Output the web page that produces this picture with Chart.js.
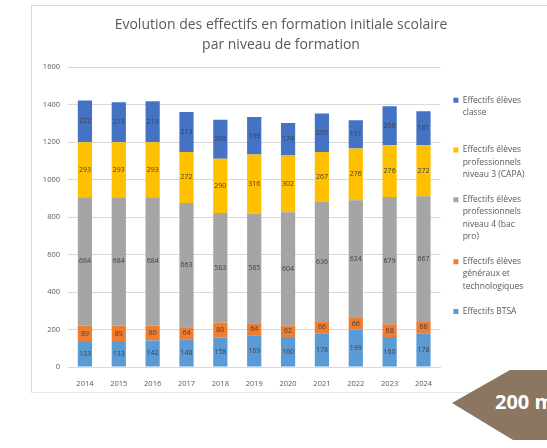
<!DOCTYPE html>
<html>
<head>
<meta charset="utf-8">
<script src="https://cdn.jsdelivr.net/npm/chart.js@4.4.1/dist/chart.umd.min.js"></script>
<style>
  html, body { margin: 0; padding: 0; background: #fff; width: 547px; height: 448px; overflow: hidden; }
  #panel { position: absolute; left: 31px; top: 5px; width: 520px; height: 388px; box-sizing: border-box;
           border-left: 1px solid #d9d9d9; border-top: 1px solid #d9d9d9; border-bottom: 1px solid #e8e8e8; }
  #wrap { position: absolute; left: 31px; top: 5px; width: 500px; height: 388px; }
  #tag { position: absolute; left: 452px; top: 370px; width: 95px; height: 70px; background: #8b7661;
         clip-path: polygon(0 33px, 58px 0, 95px 0, 95px 70px, 61px 70px); }
  #tag span { position: absolute; left: 43px; top: 18px; color: #fff; font: bold 20px "Open Sans", sans-serif; white-space: nowrap; }
</style>
</head>
<body>
<div id="panel"></div>
<div id="wrap"><canvas id="myChart" width="500" height="388"></canvas></div>
<div id="tag"><span>200 m</span></div>
<script>
var years = ["2014", "2015", "2016", "2017", "2018", "2019", "2020", "2021", "2022", "2023", "2024"];

// bas de pile -> haut de pile
var btsa = [133, 133, 142, 148, 158, 169, 160, 178, 199, 160, 178];
var genTech = [89, 89, 80, 64, 80, 64, 62, 66, 66, 68, 66];
var bacPro = [684, 684, 684, 663, 583, 585, 604, 636, 624, 679, 667];
var capa = [293, 293, 293, 272, 290, 316, 302, 267, 276, 276, 272];
var classe = [222, 213, 219, 213, 208, 199, 174, 205, 151, 208, 181];

var yTicks = [0, 200, 400, 600, 800, 1000, 1200, 1400, 1600];

var legendText = [
    ["Effectifs BTSA"],
    ["Effectifs élèves", "généraux et", "technologiques"],
    ["Effectifs élèves", "professionnels", "niveau 4 (bac", "pro)"],
    ["Effectifs élèves", "professionnels", "niveau 3 (CAPA)"],
    ["Effectifs élèves", "classe", ""]
];

var valueLabels = {
    id: "valueLabels",
    afterDatasetsDraw: function (chart) {
        var ctx = chart.ctx;
        ctx.save();
        ctx.font = '7px "Open Sans"';
        ctx.fillStyle = "#404040";
        ctx.textAlign = "center";
        ctx.textBaseline = "middle";
        chart.data.datasets.forEach(function (ds, i) {
            chart.getDatasetMeta(i).data.forEach(function (bar, j) {
                ctx.fillText(ds.data[j], bar.x, (bar.y + bar.base) / 2);
            });
        });
        ctx.restore();
    }
};

function bars(label, data, color) {
    return {
        label: label,
        data: data,
        backgroundColor: color,
        borderWidth: 0,
        barPercentage: 0.42,
        categoryPercentage: 1
    };
}

new Chart("myChart", {
    type: "bar",
    data: {
        labels: years,
        datasets: [
            bars("Effectifs BTSA", btsa, "#5B9BD5"),
            bars("Effectifs élèves généraux et technologiques", genTech, "#ED7D31"),
            bars("Effectifs élèves professionnels niveau 4 (bac pro)", bacPro, "#A5A5A5"),
            bars("Effectifs élèves professionnels niveau 3 (CAPA)", capa, "#FFC000"),
            bars("Effectifs élèves classe", classe, "#4472C4")
        ]
    },
    options: {
        responsive: false,
        animation: false,
        devicePixelRatio: 1,
        layout: { padding: { left: 0, right: 0, top: 0, bottom: 6 } },
        plugins: {
            title: {
                display: true,
                text: ["Evolution des effectifs en formation initiale scolaire", "par niveau de formation"],
                color: "#595959",
                font: { family: "Open Sans", size: 14, weight: "normal", lineHeight: 1.43 },
                padding: { top: 10, bottom: 12 }
            },
            legend: {
                position: "right",
                align: "start",
                fullSize: false,
                reverse: true,
                maxWidth: 92,
                title: { display: true, text: "", font: { size: 1, lineHeight: 1 }, padding: { top: 0, bottom: 15 } },
                labels: {
                    usePointStyle: true,
                    pointStyle: "rect",
                    boxWidth: 5,
                    boxHeight: 5,
                    padding: 13,
                    color: "#595959",
                    font: { family: "Open Sans", size: 8.5, lineHeight: 1.44 },
                    generateLabels: function (chart) {
                        return Chart.defaults.plugins.legend.labels.generateLabels(chart).map(function (l) {
                            l.text = legendText[l.datasetIndex];
                            return l;
                        });
                    }
                }
            },
            tooltip: { enabled: false }
        },
        scales: {
            x: {
                stacked: true,
                afterFit: function (axis) { axis.height = 20; },
                grid: { display: false, drawTicks: false },
                border: { color: "#d9d9d9" },
                ticks: { color: "#595959", font: { family: "Open Sans", size: 7.5 }, padding: 12 }
            },
            y: {
                stacked: true,
                min: 0,
                max: 1600,
                afterFit: function (axis) { axis.width = 37; },
                afterBuildTicks: function (axis) {
                    axis.ticks = yTicks.map(function (v) { return { value: v }; });
                },
                grid: { color: "#d9d9d9", drawTicks: false },
                border: { display: false },
                ticks: {
                    color: "#595959",
                    font: { family: "Open Sans", size: 7.5 },
                    padding: 8,
                    callback: function (v) { return String(v); }
                }
            }
        }
    },
    plugins: [valueLabels]
});
</script>
</body>
</html>
